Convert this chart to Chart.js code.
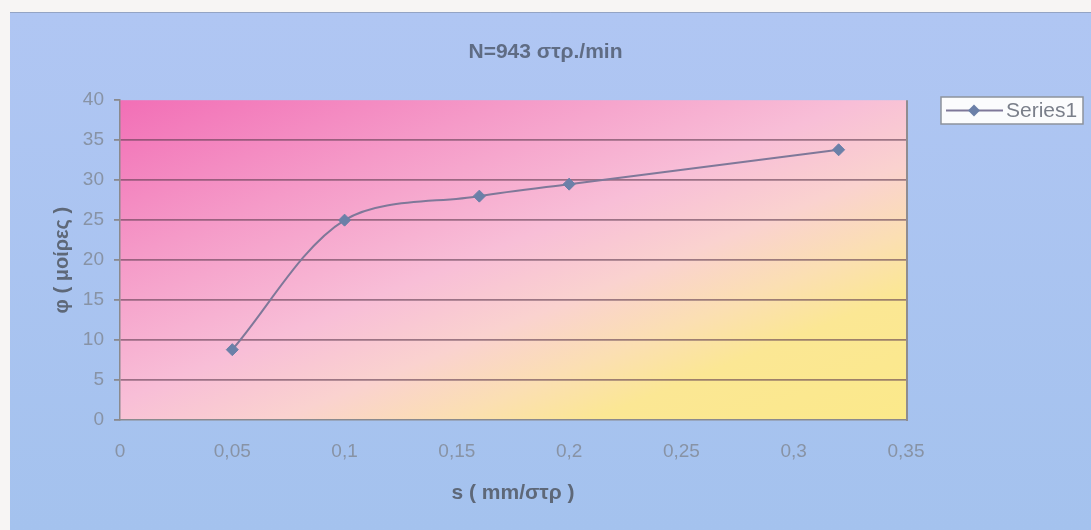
<!DOCTYPE html>
<html>
<head>
<meta charset="utf-8">
<title>N=943 στρ./min</title>
<script src="https://cdn.jsdelivr.net/npm/chart.js@4.4.0/dist/chart.umd.min.js"></script>
<style>
  html, body { margin: 0; padding: 0; background: #f7f5f4; }
  #wrap { width: 1091px; height: 530px; position: relative; }
</style>
</head>
<body>
<div id="wrap"><canvas id="chart"></canvas></div>
<script>
// feed s (mm/rev) against angle φ (degrees)
const feedValues = [0.05, 0.1, 0.16, 0.2, 0.32];
const angleValues = [8.8, 25, 28, 29.5, 33.8];
const seriesName = 'Series1';
const chartTitle = 'N=943 στρ./min';
const xTitle = 's ( mm/στρ )';
const yTitle = 'φ ( μοίρες )';
const xTickValues = [0, 0.05, 0.1, 0.15, 0.2, 0.25, 0.3, 0.35];
const yTickValues = [0, 5, 10, 15, 20, 25, 30, 35, 40];

const points = feedValues.map((s, i) => ({ x: s, y: angleValues[i] }));

const FONT = '"Liberation Sans", Arial, sans-serif';

// comma as decimal separator
const fmt = v => String(Math.round(v * 100) / 100).replace('.', ',');

const backdrop = {
  id: 'backdrop',
  beforeDraw(chart) {
    const { ctx, chartArea: a, width, height } = chart;
    ctx.save();
    ctx.fillStyle = '#f7f5f4';
    ctx.fillRect(0, 0, width, height);

    const panel = ctx.createLinearGradient(0, 12, 0, height);
    panel.addColorStop(0, '#b0c6f3');
    panel.addColorStop(1, '#a4c2ee');
    ctx.fillStyle = panel;
    ctx.fillRect(10, 12, width - 10, height - 12);
    ctx.strokeStyle = 'rgba(120,130,150,0.5)';
    ctx.lineWidth = 1;
    ctx.beginPath();
    ctx.moveTo(10, 12.5);
    ctx.lineTo(width, 12.5);
    ctx.stroke();

    // diagonal two-colour fill, isolines parallel to the anti-diagonal
    const w = a.right - a.left, h = a.bottom - a.top;
    const k = 2 * w * h / (w * w + h * h);
    const g = ctx.createLinearGradient(a.left, a.top, a.left + h * k, a.top + w * k);
    g.addColorStop(0, '#f26fb6');
    g.addColorStop(0.25, '#f59ac8');
    g.addColorStop(0.47, '#f8bed7');
    g.addColorStop(0.6, '#fad2cf');
    g.addColorStop(0.71, '#fbdfb2');
    g.addColorStop(0.8, '#fbe794');
    g.addColorStop(1, '#fbe98a');
    ctx.fillStyle = g;
    ctx.fillRect(a.left, a.top, w, h);
    ctx.restore();
  },
  beforeDatasetsDraw(chart) {
    const { ctx, chartArea: a } = chart;
    ctx.save();
    ctx.strokeStyle = '#8f8c90';
    ctx.lineWidth = 2;
    ctx.beginPath();
    ctx.moveTo(a.right + 1, a.top);
    ctx.lineTo(a.right + 1, a.bottom + 1);
    ctx.stroke();
    ctx.restore();
  }
};

const boxLegend = {
  id: 'boxLegend',
  afterDraw(chart, args, opts) {
    const ds = chart.data.datasets[0];
    const { ctx } = chart;
    const { x, y, width, height } = opts;
    const cy = y + height / 2;
    ctx.save();
    ctx.fillStyle = '#fbfcfd';
    ctx.fillRect(x, y, width, height);
    ctx.strokeStyle = '#8d939c';
    ctx.lineWidth = 1.5;
    ctx.strokeRect(x, y, width, height);

    ctx.strokeStyle = ds.borderColor;
    ctx.lineWidth = ds.borderWidth;
    ctx.beginPath();
    ctx.moveTo(x + 5, cy);
    ctx.lineTo(x + 62, cy);
    ctx.stroke();

    const mx = x + 33, r = ds.pointRadius;
    ctx.fillStyle = ds.pointBackgroundColor;
    ctx.beginPath();
    ctx.moveTo(mx, cy - r);
    ctx.lineTo(mx + r, cy);
    ctx.lineTo(mx, cy + r);
    ctx.lineTo(mx - r, cy);
    ctx.closePath();
    ctx.fill();

    ctx.fillStyle = '#7a7f8a';
    ctx.font = '21px ' + FONT;
    ctx.textBaseline = 'middle';
    ctx.fillText(ds.label, x + 65, cy + 1);
    ctx.restore();
  }
};

new Chart(document.getElementById('chart'), {
  type: 'line',
  data: {
    datasets: [{
      label: seriesName,
      data: points,
      xAxisID: 'x',
      yAxisID: 'y',
      borderColor: '#7f7899',
      borderWidth: 2,
      tension: 0.32,
      pointStyle: 'rectRot',
      pointRadius: 6,
      pointBackgroundColor: '#6b80a8',
      pointBorderColor: '#6b80a8',
      pointBorderWidth: 1
    }]
  },
  options: {
    responsive: true,
    maintainAspectRatio: false,
    animation: false,
    layout: { padding: { left: 0, top: 0, right: 0, bottom: 10 } },
    plugins: {
      legend: { display: false },
      tooltip: { enabled: false },
      title: {
        display: true,
        text: chartTitle,
        color: '#5f6c84',
        font: { family: FONT, size: 21, weight: 'bold', lineHeight: 1.2 },
        padding: { top: 40, bottom: 35 }
      },
      boxLegend: { x: 941, y: 97, width: 142, height: 27 }
    },
    scales: {
      x: {
        type: 'linear',
        min: 0,
        max: 0.35,
        afterBuildTicks: s => { s.ticks = xTickValues.map(v => ({ value: v })); },
        afterFit: s => { s.height = 100; },
        grid: { display: false },
        border: { display: true, color: '#8a8a8e', width: 1.5 },
        ticks: {
          padding: 12,
          color: '#8893a5',
          font: { family: FONT, size: 19 },
          callback: v => fmt(v)
        },
        title: {
          display: true,
          text: xTitle,
          color: '#5e6878',
          font: { family: FONT, size: 21, weight: 'bold', lineHeight: 1.2 },
          padding: { top: 0, bottom: 14 }
        }
      },
      y: {
        position: 'left',
        min: 0,
        max: 40,
        afterBuildTicks: s => { s.ticks = yTickValues.map(v => ({ value: v })); },
        afterFit: s => { s.width = 120; },
        grid: {
          color: c => (c.tick && c.tick.value > 0 && c.tick.value < 40) ? 'rgba(95,60,80,0.6)' : 'rgba(0,0,0,0)',
          lineWidth: 1.8,
          tickLength: 6,
          tickColor: '#8a8a8e'
        },
        border: { display: true, color: '#8a8a8e', width: 1.5 },
        ticks: {
          padding: 10,
          color: '#8893a5',
          font: { family: FONT, size: 19 },
          callback: v => fmt(v)
        },
        title: {
          display: true,
          text: yTitle,
          color: '#5e6878',
          font: { family: FONT, size: 20, weight: 'bold', lineHeight: 1.2 },
          padding: { top: 50, bottom: 0 }
        }
      },
      // empty right-hand band that holds the legend box
      spacer: {
        type: 'linear',
        position: 'right',
        afterFit: s => { s.width = 185; },
        grid: { display: false },
        border: { display: false },
        ticks: { display: false }
      }
    }
  },
  plugins: [backdrop, boxLegend]
});
</script>
</body>
</html>
